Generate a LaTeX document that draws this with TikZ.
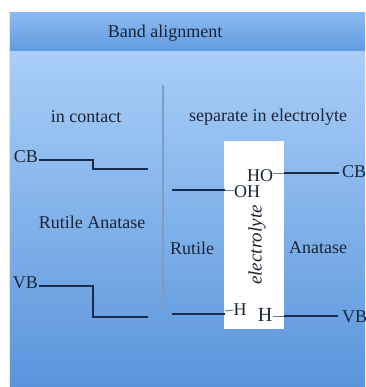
\documentclass[tikz,border=0pt]{standalone}
\usepackage{fontspec}
\setmainfont{Liberation Serif}
\newfontfamily\timesfam{Liberation Serif}
\definecolor{hdtop}{HTML}{8CBAF0}
\definecolor{hdbot}{HTML}{5F9AE0}
\definecolor{bdtop}{HTML}{A9CEF8}
\definecolor{bdbot}{HTML}{5A95DB}
\definecolor{txt}{HTML}{1C2536}
\definecolor{bandc}{HTML}{1A2A4A}
\definecolor{divc}{HTML}{7E9CC4}
\definecolor{tickc}{HTML}{6F7E92}
\begin{document}
\begin{tikzpicture}[x=1pt,y=-1pt,
  lbl/.style={inner sep=0pt, text=txt, font=\timesfam\fontsize{18}{20}\selectfont},
  bigH/.style={inner sep=0pt, text=txt, font=\timesfam\fontsize{20}{22}\selectfont},
  band/.style={draw=bandc, line width=1.7pt},
  tick/.style={draw=tickc, line width=1pt},
  divider/.style={draw=divc, line width=1.5pt}]
\useasboundingbox (0,0) rectangle (365,387);
\clip (0,0) rectangle (365,387);
\fill[white] (0,0) rectangle (365,387);
% panel
\shade[top color=hdtop, bottom color=hdbot] (9,13) rectangle (365,52);
\shade[top color=bdtop, bottom color=bdbot] (9,52) rectangle (365,387);
\draw[white!70!hdtop, line width=0.6pt] (9.3,13) -- (9.3,387);
% title
\node[lbl] (title) at (165,33) {Band alignment};
% left panel
\node[lbl] (contact) at (86,117) {in contact};
\node[lbl, anchor=east] (cbL) at (38,157) {CB};
\node[lbl, anchor=east] (vbL) at (38,283) {VB};
\node[lbl] (ra) at (92,222) {Rutile Anatase};
\coordinate (cbA) at (39,160);
\coordinate (cbB) at (148,169);
\coordinate (vbA) at (39,286);
\coordinate (vbB) at (148,317);
\draw[band] (cbA) -- (93,160) -- (93,169) -- (cbB);
\draw[band] (vbA) -- (93,286) -- (93,317) -- (vbB);
% divider
\coordinate (divT) at (163,85);
\coordinate (divB) at (163,310);
\draw[divider] (divT) -- (divB);
% right panel
\node[lbl] (sep) at (268,117) {separate in electrolyte};
\node[fill=white, inner sep=0pt, minimum width=60pt, minimum height=188pt] (box) at (254,235) {};
\node[lbl, rotate=90, font=\timesfam\fontsize{19}{21}\selectfont\itshape] (el) at (257,245) {electrolyte};
\node[lbl] (HO) at (260,176) {HO};
\node[lbl] (OH) at (247,192) {OH};
\node[lbl] (Hs) at (240,310) {H};
\node[bigH] (Hb) at (265,315) {H};
\node[lbl] (rut) at (192,248) {Rutile};
\node[lbl] (ana) at (318,248) {Anatase};
\node[lbl, anchor=west] (cbR) at (342,172) {CB};
\node[lbl, anchor=west] (vbR) at (342,317) {VB};
% CB right (anatase)
\coordinate (hoT) at (273,173);
\coordinate (boxR1) at (284,173);
\coordinate (cbRe) at (339,173);
\draw[tick] (hoT) -- (boxR1);
\draw[band] (boxR1) -- (cbRe);
% OH left (rutile)
\coordinate (ohS) at (172,190);
\coordinate (boxL1) at (225,190);
\coordinate (ohT) at (234,190);
\draw[band] (ohS) -- (boxL1);
\draw[tick] (boxL1) -- (ohT);
% H left (rutile)
\coordinate (hS) at (172,314);
\coordinate (boxL2) at (225,314);
\draw[band] (hS) -- (boxL2);
\draw[tick] (225,311) -- (Hs.west);
% H right (anatase)
\coordinate (hbT) at (273,316);
\coordinate (boxR2) at (284,316);
\coordinate (vbRe) at (338,316);
\draw[tick] (hbT) -- (boxR2);
\draw[band] (boxR2) -- (vbRe);
\end{tikzpicture}
\end{document}
